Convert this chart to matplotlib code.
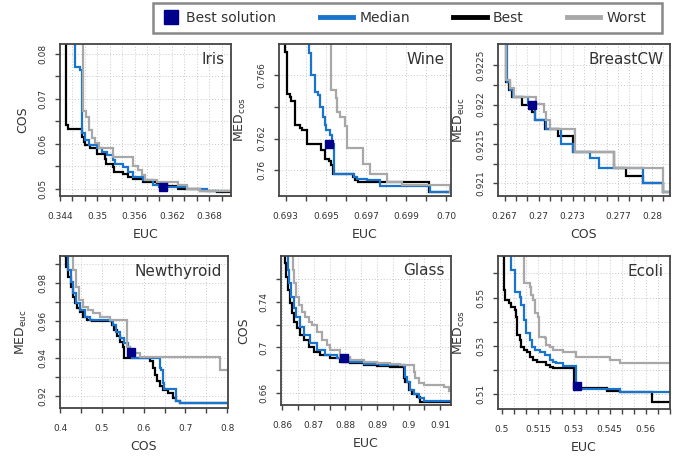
import numpy as np
import matplotlib
matplotlib.use('Agg')
import matplotlib.pyplot as plt
from matplotlib.lines import Line2D
from matplotlib.patches import Rectangle

# step fronts: (x, y) = where the curve drops and the level it drops to

#Iris
iris_best = [(0.3449, 0.090), (0.3449, 0.0642), (0.3453, 0.0633), (0.3475, 0.0616), (0.3478, 0.0605),
             (0.3480, 0.0597), (0.3488, 0.0590), (0.3499, 0.0578), (0.3512, 0.0567), (0.3514, 0.0556),
             (0.3526, 0.0549), (0.3527, 0.0537), (0.3542, 0.0532), (0.3550, 0.0526), (0.3558, 0.0521),
             (0.3574, 0.0515), (0.3596, 0.0510), (0.3612, 0.0505), (0.3630, 0.0500), (0.3665, 0.0495),
             (0.3692, 0.0493), (0.3720, 0.0493)]
iris_median = [(0.3464, 0.090), (0.3464, 0.0772), (0.3472, 0.0765), (0.3475, 0.0623), (0.3480, 0.0608),
               (0.3486, 0.0597), (0.3499, 0.0590), (0.3507, 0.0582), (0.3515, 0.0575), (0.3526, 0.0563),
               (0.3529, 0.0556), (0.3542, 0.0549), (0.3550, 0.0537), (0.3558, 0.0526), (0.3574, 0.0519),
               (0.3590, 0.0508), (0.3600, 0.0504), (0.3644, 0.0500), (0.3676, 0.0495), (0.3720, 0.0493)]
iris_worst = [(0.3477, 0.090), (0.3477, 0.0672), (0.3482, 0.0660), (0.3486, 0.0631), (0.3491, 0.0612),
              (0.3496, 0.0601), (0.3502, 0.0590), (0.3526, 0.0571), (0.3558, 0.0550), (0.3565, 0.0541),
              (0.3572, 0.0530), (0.3577, 0.0520), (0.3596, 0.0515), (0.3630, 0.0508), (0.3644, 0.0500),
              (0.3665, 0.0495), (0.3720, 0.0495)]
iris_sol = (0.3605, 0.0504)

#Wine
wine_best = [(0.69295, 0.770), (0.69295, 0.76747), (0.69307, 0.76484), (0.69323, 0.76463), (0.69328, 0.76438),
             (0.69345, 0.76284), (0.69370, 0.76269), (0.69383, 0.76257), (0.69407, 0.76168), (0.69478, 0.76126),
             (0.69495, 0.76074), (0.69517, 0.76059), (0.69528, 0.76032), (0.69537, 0.75979), (0.69637, 0.75958),
             (0.69645, 0.75941), (0.69662, 0.75926), (0.70012, 0.75863), (0.7015, 0.75863)]
wine_median = [(0.69417, 0.770), (0.69417, 0.76740), (0.69425, 0.76653), (0.69428, 0.76600), (0.69445, 0.76495),
               (0.69462, 0.76474), (0.69470, 0.76400), (0.69487, 0.76337), (0.69495, 0.76284), (0.69503, 0.76253),
               (0.69520, 0.76221), (0.69532, 0.76168), (0.69540, 0.75979), (0.69640, 0.75958), (0.69653, 0.75947),
               (0.69703, 0.75937), (0.69770, 0.75901), (0.70020, 0.75863), (0.7015, 0.75863)]
wine_worst = [(0.69528, 0.770), (0.69528, 0.76505), (0.69550, 0.76453), (0.69557, 0.76368), (0.69570, 0.76337),
              (0.69595, 0.76278), (0.69607, 0.76143), (0.69687, 0.76042), (0.69720, 0.75979), (0.69803, 0.75926),
              (0.69878, 0.75905), (0.70117, 0.75863), (0.7015, 0.75863)]
wine_sol = (0.69517, 0.76164)

#BreastCW
bcw_best = [(0.26700, 0.9230), (0.26715, 0.92229), (0.26738, 0.92219), (0.26765, 0.92210), (0.26856, 0.92200),
            (0.26945, 0.92191), (0.26966, 0.92181), (0.27054, 0.92169), (0.27172, 0.92160), (0.27299, 0.92140),
            (0.27665, 0.92120), (0.27771, 0.92110), (0.27918, 0.92100), (0.28101, 0.92089), (0.2818, 0.92089)]
bcw_median = [(0.26691, 0.9230), (0.26721, 0.92229), (0.26744, 0.92219), (0.26774, 0.92210), (0.26907, 0.92201),
              (0.26921, 0.92195), (0.26966, 0.92181), (0.27069, 0.92169), (0.27193, 0.92150), (0.27299, 0.92140),
              (0.27452, 0.92132), (0.27535, 0.92120), (0.27918, 0.92100), (0.28101, 0.92089), (0.2818, 0.92089)]
bcw_worst = [(0.26700, 0.9230), (0.26715, 0.92231), (0.26744, 0.92221), (0.26780, 0.92210), (0.26974, 0.92201),
             (0.27045, 0.92191), (0.27069, 0.92181), (0.27098, 0.92169), (0.27320, 0.92140), (0.27665, 0.92120),
             (0.28101, 0.92089), (0.2818, 0.92089)]
bcw_sol = (0.26945, 0.92200)

#Newthyroid
nt_best = [(0.4119, 0.999), (0.4119, 0.9940), (0.4143, 0.9884), (0.4199, 0.9831), (0.4255, 0.9779),
           (0.4302, 0.9726), (0.4358, 0.9691), (0.4414, 0.9665), (0.4477, 0.9647), (0.4557, 0.9621),
           (0.4652, 0.9603), (0.4756, 0.9598), (0.5233, 0.9577), (0.5289, 0.9551), (0.5352, 0.9516),
           (0.5432, 0.9489), (0.5511, 0.9463), (0.5527, 0.9402), (0.6148, 0.9384), (0.6212, 0.9349),
           (0.6267, 0.9314), (0.6323, 0.9279), (0.6387, 0.9253), (0.6466, 0.9235), (0.6585, 0.9218),
           (0.6705, 0.9191), (0.6784, 0.9174), (0.6864, 0.9165), (0.803, 0.9165)]
nt_median = [(0.4159, 0.999), (0.4159, 0.9940), (0.4199, 0.9867), (0.4255, 0.9805), (0.4318, 0.9744),
             (0.4382, 0.9691), (0.4477, 0.9656), (0.4597, 0.9621), (0.4716, 0.9603), (0.5193, 0.9598),
             (0.5257, 0.9577), (0.5336, 0.9542), (0.5432, 0.9507), (0.5527, 0.9481), (0.5631, 0.9463),
             (0.5671, 0.9428), (0.5710, 0.9402), (0.6387, 0.9349), (0.6426, 0.9340), (0.6466, 0.9270),
             (0.6490, 0.9239), (0.6768, 0.9174), (0.6864, 0.9165), (0.803, 0.9165)]
nt_worst = [(0.4278, 0.999), (0.4278, 0.9940), (0.4318, 0.9867), (0.4382, 0.9779), (0.4461, 0.9709),
            (0.4557, 0.9674), (0.4676, 0.9656), (0.4796, 0.9639), (0.4955, 0.9621), (0.5193, 0.9603),
            (0.5591, 0.9463), (0.5671, 0.9446), (0.5750, 0.9428), (0.5909, 0.9410), (0.7818, 0.9337),
            (0.803, 0.9337)]
nt_sol = (0.5694, 0.9432)

#Glass
glass_best = [(0.86074, 0.785), (0.86084, 0.77345), (0.86126, 0.76182), (0.86179, 0.75018), (0.86242, 0.73855),
              (0.86316, 0.72982), (0.86389, 0.72254), (0.86474, 0.71673), (0.86579, 0.71091), (0.86684, 0.70654),
              (0.86842, 0.70073), (0.87000, 0.69636), (0.87211, 0.69345), (0.87526, 0.69054), (0.87842, 0.68764),
              (0.88158, 0.68618), (0.88579, 0.68473), (0.89000, 0.68415), (0.89421, 0.68327), (0.89789, 0.68269),
              (0.89842, 0.67309), (0.89895, 0.67018), (0.90000, 0.66291), (0.90105, 0.65942), (0.90263, 0.65709),
              (0.90368, 0.65273), (0.91337, 0.65215), (0.915, 0.65215)]
glass_median = [(0.86137, 0.785), (0.86179, 0.76763), (0.86221, 0.75600), (0.86284, 0.74436), (0.86368, 0.73418),
                (0.86453, 0.72691), (0.86579, 0.71818), (0.86705, 0.71091), (0.86895, 0.70364), (0.87105, 0.69782),
                (0.87368, 0.69345), (0.87737, 0.69054), (0.88158, 0.68764), (0.88579, 0.68560), (0.89105, 0.68473),
                (0.89842, 0.68415), (0.89895, 0.67455), (0.89947, 0.67018), (0.90053, 0.66291), (0.90158, 0.65942),
                (0.90316, 0.65564), (0.90474, 0.65360), (0.91337, 0.65331), (0.915, 0.65331)]
glass_worst = [(0.86316, 0.785), (0.86347, 0.76763), (0.86389, 0.75600), (0.86453, 0.74436), (0.86526, 0.73709),
               (0.86632, 0.73127), (0.86737, 0.72691), (0.86842, 0.72254), (0.86947, 0.71963), (0.87105, 0.71382),
               (0.87263, 0.70654), (0.87421, 0.70218), (0.87526, 0.69782), (0.87842, 0.69200), (0.88158, 0.68909),
               (0.88579, 0.68764), (0.89000, 0.68618), (0.89421, 0.68560), (0.89737, 0.68473), (0.90158, 0.67836),
               (0.90211, 0.67309), (0.90316, 0.66873), (0.90474, 0.66727), (0.91105, 0.66582), (0.91263, 0.66233),
               (0.915, 0.66233)]
glass_sol = (0.87968, 0.69113)

#Ecoli
ecoli_best = [(0.50070, 0.570), (0.50070, 0.55317), (0.50112, 0.54903), (0.50293, 0.54766), (0.50391, 0.54628),
              (0.50530, 0.54490), (0.50572, 0.54214), (0.50628, 0.53455), (0.50740, 0.53248), (0.50809, 0.52972),
              (0.50907, 0.52834), (0.51047, 0.52766), (0.51158, 0.52559), (0.51298, 0.52421), (0.51465, 0.52352),
              (0.51856, 0.52214), (0.51995, 0.52117), (0.52135, 0.52076), (0.53000, 0.51248), (0.54395, 0.51138),
              (0.54926, 0.51090), (0.56251, 0.50680), (0.5705, 0.50680)]
ecoli_median = [(0.50349, 0.570), (0.50391, 0.56145), (0.50530, 0.55938), (0.50558, 0.55248), (0.50740, 0.55041),
                (0.50809, 0.54697), (0.50907, 0.54076), (0.51019, 0.53524), (0.51158, 0.53248), (0.51270, 0.52972),
                (0.51367, 0.52834), (0.51577, 0.52766), (0.51786, 0.52628), (0.51995, 0.52421), (0.52135, 0.52352),
                (0.52274, 0.52283), (0.52553, 0.52172), (0.53112, 0.51221), (0.54926, 0.51090), (0.5705, 0.51090)]
ecoli_worst = [(0.50907, 0.570), (0.50907, 0.55593), (0.51158, 0.55455), (0.51200, 0.55110), (0.51298, 0.54903),
               (0.51367, 0.54352), (0.51507, 0.54214), (0.51549, 0.53386), (0.51786, 0.53317), (0.51856, 0.53041),
               (0.51995, 0.52972), (0.52135, 0.52834), (0.52553, 0.52766), (0.53112, 0.52559), (0.54507, 0.52421),
               (0.54926, 0.52283), (0.5705, 0.52283)]
ecoli_sol = (0.53153, 0.51359)

BLUE = '#1874cd'
GRAY = '#a8a8a8'
NAVY = '#00008b'
EDGE = '#444444'
TXT = '#333333'

plt.rcParams['font.family'] = 'DejaVu Sans'
plt.rcParams['mathtext.fontset'] = 'dejavusans'

fig = plt.figure(figsize=(6.86, 4.57), dpi=100)
W, H = 686.0, 457.0


def ticks(a, b, step):
    return np.round(np.arange(a, b + step / 2, step), 6)


def panel(box, title, best, median, worst, sol, xlim, ylim, xminor, xmajor, xlabs,
          yminor, ymajor, ylabs, xlab, ylab):
    L, R, T, B = box
    ax = fig.add_axes([L / W, 1 - B / H, (R - L) / W, (B - T) / H])
    # drawn best -> median -> worst (worst ends up on top where they share a level)
    for pts, c in ((best, 'black'), (median, BLUE), (worst, GRAY)):
        xs, ys = zip(*pts)
        ax.plot(xs, ys, drawstyle='steps-post', color=c, lw=1.6, solid_joinstyle='miter')
    ax.plot([sol[0]], [sol[1]], 's', color=NAVY, ms=6, zorder=5)
    ax.set_xlim(*xlim)
    ax.set_ylim(*ylim)
    ax.set_xticks(xminor, minor=True)
    ax.set_xticks(xmajor, xlabs)
    ax.set_yticks(yminor, minor=True)
    ax.set_yticks(ymajor, ylabs)
    for lab in ax.get_yticklabels():
        lab.set_rotation(90)
        lab.set_va('center')
    ax.tick_params(which='both', direction='out', length=3.5, width=1, color=EDGE,
                   labelsize=6.5, labelcolor=TXT)
    ax.tick_params(axis='x', pad=8)
    ax.tick_params(axis='y', pad=5.5)
    ax.grid(True, which='both', ls=(0, (1, 2)), color='#c8c8c8', lw=0.7)
    ax.set_axisbelow(True)
    for s in ax.spines.values():
        s.set_color(EDGE)
        s.set_linewidth(1.3)
    ax.set_xlabel(xlab, fontsize=9, color=TXT, labelpad=5)
    ax.set_ylabel(ylab, fontsize=9, color=TXT, labelpad=7)
    ax.text(0.965, 0.95, title, transform=ax.transAxes, ha='right', va='top',
            fontsize=11, color=TXT)
    return ax


MEDCOS = r'MED$_{\rm cos}$'
MEDEUC = r'MED$_{\rm euc}$'

panel((60, 231, 44, 196), 'Iris', iris_best, iris_median, iris_worst, iris_sol,
      (0.344, 0.3715), (0.04836, 0.08224),
      ticks(0.344, 0.370, 0.002), [0.344, 0.35, 0.356, 0.362, 0.368], ['0.344', '0.35', '0.356', '0.362', '0.368'],
      ticks(0.05, 0.08, 0.005), [0.05, 0.06, 0.07, 0.08], ['0.05', '0.06', '0.07', '0.08'],
      'EUC', 'COS')

panel((279, 451, 44, 196), 'Wine', wine_best, wine_median, wine_worst, wine_sol,
      (0.69267, 0.70123), (0.75838, 0.76796),
      ticks(0.693, 0.701, 0.001), [0.693, 0.695, 0.697, 0.699, 0.701], ['0.693', '0.695', '0.697', '0.699', '0.70'],
      ticks(0.760, 0.766, 0.002), [0.760, 0.762, 0.766], ['0.76', '0.762', '0.766'],
      'EUC', MEDCOS)

panel((498, 670, 44, 196), 'BreastCW', bcw_best, bcw_median, bcw_worst, bcw_sol,
      (0.26641, 0.2816), (0.92084, 0.92277),
      ticks(0.267, 0.281, 0.001), [0.267, 0.270, 0.273, 0.277, 0.280], ['0.267', '0.27', '0.273', '0.277', '0.28'],
      ticks(0.921, 0.9225, 0.00025), [0.921, 0.9215, 0.922, 0.9225], ['0.921', '0.9215', '0.922', '0.9225'],
      'COS', MEDEUC)

panel((60, 228, 256, 408), 'Newthyroid', nt_best, nt_median, nt_worst, nt_sol,
      (0.4, 0.8017), (0.91386, 0.99404),
      ticks(0.4, 0.8, 0.05), [0.4, 0.5, 0.6, 0.7, 0.8], ['0.4', '0.5', '0.6', '0.7', '0.8'],
      ticks(0.92, 0.99, 0.01), [0.92, 0.94, 0.96, 0.98], ['0.92', '0.94', '0.96', '0.98'],
      'COS', MEDEUC)

panel((281, 451, 256, 405), 'Glass', glass_best, glass_median, glass_worst, glass_sol,
      (0.85968, 0.91337), (0.64982, 0.77985),
      ticks(0.86, 0.91, 0.005), [0.86, 0.87, 0.88, 0.89, 0.90, 0.91], ['0.86', '0.87', '0.88', '0.89', '0.9', '0.91'],
      ticks(0.66, 0.76, 0.02), [0.66, 0.70, 0.74], ['0.66', '0.7', '0.74'],
      'EUC', 'COS')

panel((498, 670, 256, 409), 'Ecoli', ecoli_best, ecoli_median, ecoli_worst, ecoli_sol,
      (0.49833, 0.57019), (0.50393, 0.56724),
      ticks(0.5, 0.57, 0.005), [0.5, 0.515, 0.53, 0.545, 0.56], ['0.5', '0.515', '0.53', '0.545', '0.56'],
      ticks(0.51, 0.56, 0.01), [0.51, 0.53, 0.55], ['0.51', '0.53', '0.55'],
      'EUC', MEDCOS)

# legend: frame + two frameless legends (short handle for the square)
fig.add_artist(Rectangle((153 / W, 1 - 33 / H), 509 / W, 30 / H, transform=fig.transFigure,
                         fill=False, edgecolor='#888888', lw=1.8))
sq = [Line2D([], [], marker='s', ls='none', color=NAVY, ms=9.5)]
fig.legend(sq, ['Best solution'], loc='center left', bbox_to_anchor=(164.5 / W, 1 - 18 / H),
           frameon=False, fontsize=10, handlelength=1.0, handletextpad=0.55,
           borderpad=0, borderaxespad=0, labelcolor=TXT)
lines = [Line2D([], [], color=BLUE, lw=3.5),
         Line2D([], [], color='black', lw=3.5),
         Line2D([], [], color=GRAY, lw=3.5)]
fig.legend(lines, ['Median', 'Best', 'Worst'], ncol=3, loc='center left',
           bbox_to_anchor=(320 / W, 1 - 18 / H), frameon=False, fontsize=10,
           handlelength=2.4, handletextpad=0.45, columnspacing=3.1,
           borderpad=0, borderaxespad=0, labelcolor=TXT)

fig.savefig('out.png', dpi=100)
